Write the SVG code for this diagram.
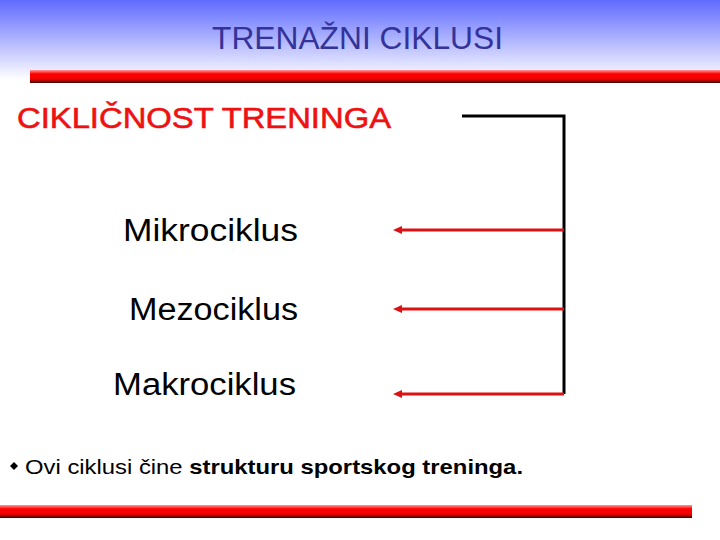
<svg xmlns="http://www.w3.org/2000/svg" width="720" height="540" viewBox="0 0 720 540">
<defs>
<linearGradient id="bg" x1="0" y1="0" x2="0" y2="1">
<stop offset="0" stop-color="#5f6bff"/>
<stop offset="1" stop-color="#ffffff"/>
</linearGradient>
<linearGradient id="bar" x1="0" y1="0" x2="0" y2="1">
<stop offset="0" stop-color="#ff9a9a"/>
<stop offset="0.3" stop-color="#ff0000"/>
<stop offset="0.7" stop-color="#ee0000"/>
<stop offset="1" stop-color="#400000"/>
</linearGradient>
<marker id="ah" viewBox="0 0 10 10" refX="0" refY="5" markerWidth="9" markerHeight="8" markerUnits="userSpaceOnUse" orient="auto" preserveAspectRatio="none">
<path d="M0,0 L10,5 L0,10 z" fill="#dd1111"/>
</marker>
<style>
.t{font-family:"Liberation Sans",Arial,sans-serif}
.lbl{font-size:31px;fill:#000}
.arr{stroke:#dd1111;stroke-width:3;fill:none;marker-end:url(#ah)}
</style>
</defs>
<rect width="720" height="540" fill="#fff"/>
<rect width="720" height="80" fill="url(#bg)"/>
<rect x="30" y="70" width="690" height="13" fill="url(#bar)"/>
<rect x="0" y="505" width="692" height="13" fill="url(#bar)"/>
<text class="t" x="212" y="49" font-size="31" fill="#333399" textLength="291" lengthAdjust="spacingAndGlyphs">TRENAŽNI CIKLUSI</text>
<g id="title"><text class="t" x="17" y="128" font-size="30" fill="#ee1111" stroke="#ee1111" stroke-width="0.6" textLength="374" lengthAdjust="spacingAndGlyphs">CIKLIČNOST TRENINGA</text></g>
<g id="mikro"><text class="t lbl" x="123" y="241" textLength="175" lengthAdjust="spacingAndGlyphs">Mikrociklus</text></g>
<g id="mezo"><text class="t lbl" x="129" y="320" textLength="169" lengthAdjust="spacingAndGlyphs">Mezociklus</text></g>
<g id="makro"><text class="t lbl" x="113" y="395" textLength="183" lengthAdjust="spacingAndGlyphs">Makrociklus</text></g>
<g id="connectors">
<path d="M462,116 H564 V394" stroke="#000" stroke-width="3" fill="none"/>
<line class="arr" x1="564" y1="230" x2="402" y2="230"/>
<line class="arr" x1="564" y1="309" x2="402" y2="309"/>
<line class="arr" x1="564" y1="394" x2="402" y2="394"/>
</g>
<g id="note">
<path d="M14,462 l4,4 l-4,4 l-4,-4 z" fill="#000"/>
<text class="t" x="25" y="474" font-size="21" fill="#000" textLength="498" lengthAdjust="spacingAndGlyphs">Ovi ciklusi čine <tspan font-weight="bold">strukturu sportskog treninga.</tspan></text>
</g>
</svg>
